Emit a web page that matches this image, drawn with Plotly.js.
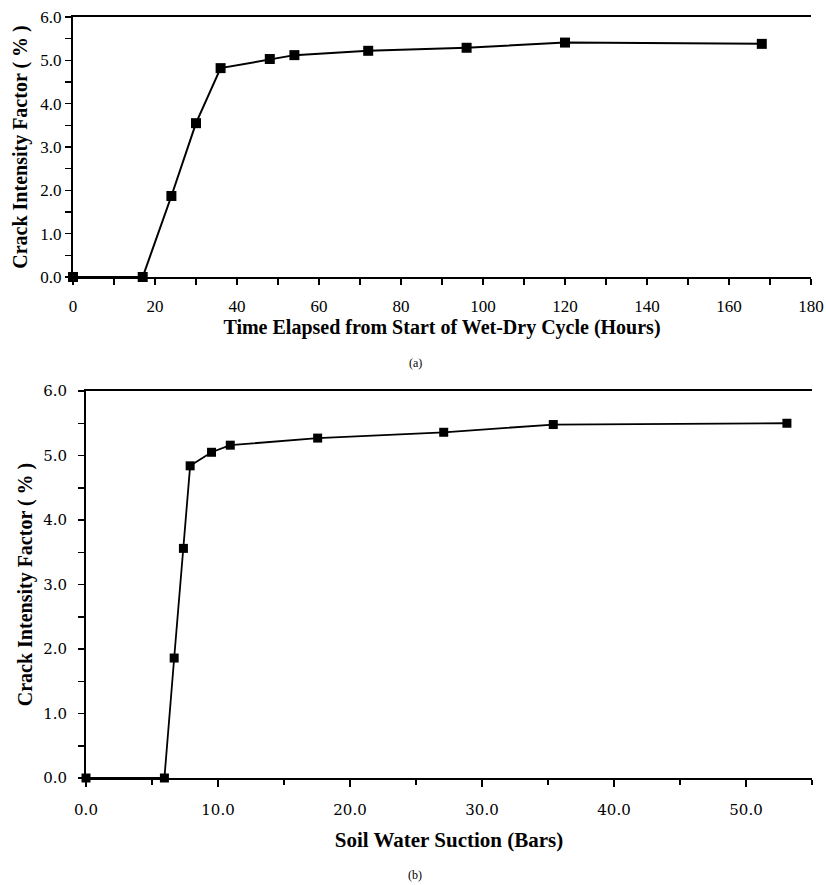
<!DOCTYPE html>
<html>
<head>
<meta charset="utf-8">
<script src="https://cdn.plot.ly/plotly-3.0.1.min.js"></script>
<style>html,body{margin:0;padding:0;background:#fff;}#chart{width:826px;height:885px;}</style>
</head>
<body>
<div id="chart"></div>
<script>
// (a) Crack intensity factor vs time
const timeHours = [0, 17, 24, 30, 36, 48, 54, 72, 96, 120, 168];
const cifTime = [0, 0, 1.87, 3.55, 4.82, 5.03, 5.12, 5.22, 5.29, 5.41, 5.38];
// (b) Crack intensity factor vs suction
const suctionBars = [0, 5.94, 6.68, 7.38, 7.89, 9.51, 10.93, 17.55, 27.1, 35.4, 53.1];
const cifSuction = [0, 0, 1.86, 3.56, 4.84, 5.05, 5.16, 5.27, 5.36, 5.48, 5.50];

const xTitleA = 'Time Elapsed from Start of Wet-Dry Cycle (Hours)';
const xTitleB = 'Soil Water Suction (Bars)';
const yTitle = 'Crack Intensity Factor ( % )';

const W = 826, H = 885;
const px = v => v / W;
const py = v => 1 - v / H;

const serif = "'Liberation Serif', 'Times New Roman', serif";
const slab = "'DejaVu Serif', serif";

const traces = [
  {x: timeHours, y: cifTime, xaxis: 'x', yaxis: 'y', mode: 'lines+markers',
   line: {color: '#000', width: 2}, marker: {symbol: 'square', size: 10, color: '#000'},
   cliponaxis: false, showlegend: false, hoverinfo: 'x+y'},
  {x: suctionBars, y: cifSuction, xaxis: 'x2', yaxis: 'y2', mode: 'lines+markers',
   line: {color: '#000', width: 1.8}, marker: {symbol: 'square', size: 9, color: '#000'},
   cliponaxis: false, showlegend: false, hoverinfo: 'x+y'}
];

const layout = {
  width: W, height: H,
  margin: {l: 0, r: 0, t: 0, b: 0},
  paper_bgcolor: '#fff', plot_bgcolor: '#fff',
  showlegend: false,
  xaxis: {
    domain: [px(73), px(811)], anchor: 'y', range: [0, 180],
    dtick: 20, tick0: 0, ticks: 'outside', ticklen: 6, tickwidth: 1.5, tickcolor: '#000',
    minor: {dtick: 10, ticks: 'outside', ticklen: 6, tickwidth: 1.5, tickcolor: '#000'},
    showline: true, linecolor: '#000', linewidth: 2, mirror: true,
    showgrid: false, zeroline: false, ticklabelstandoff: 7,
    tickfont: {family: serif, size: 17, color: '#000'},
    title: {text: xTitleA, font: {family: serif, size: 20, color: '#000', weight: 'bold'}, standoff: 4}
  },
  yaxis: {
    domain: [py(277), py(17)], anchor: 'x', range: [0, 6],
    dtick: 1, tick0: 0, tickformat: '.1f', ticks: 'outside', ticklen: 6, tickwidth: 1.5, tickcolor: '#000',
    minor: {dtick: 0.5, ticks: 'outside', ticklen: 6, tickwidth: 1.5, tickcolor: '#000'},
    showline: true, linecolor: '#000', linewidth: 2,
    showgrid: false, zeroline: false,
    tickfont: {family: serif, size: 17, color: '#000'},
    title: {text: yTitle, font: {family: serif, size: 20, color: '#000', weight: 'bold'}, standoff: 7}
  },
  yaxis3: {
    overlaying: 'y', anchor: 'x', side: 'right', range: [0, 6],
    showline: true, linecolor: '#888', linewidth: 1.5,
    showticklabels: false, ticks: '', showgrid: false, zeroline: false
  },
  xaxis2: {
    domain: [px(86), px(812)], anchor: 'y2', range: [0, 55],
    dtick: 10, tick0: 0, tickformat: '.1f', ticks: 'outside', ticklen: 7, tickwidth: 1.5, tickcolor: '#000',
    minor: {dtick: 5, ticks: 'outside', ticklen: 5, tickwidth: 1.5, tickcolor: '#000'},
    showline: true, linecolor: '#000', linewidth: 2, mirror: true,
    showgrid: false, zeroline: false, ticklabelstandoff: 10,
    tickfont: {family: slab, size: 15, color: '#000'},
    title: {text: xTitleB, font: {family: serif, size: 21, color: '#000', weight: 'bold'}, standoff: 14}
  },
  xaxis4: {
    overlaying: 'x2', anchor: 'y2', range: [0, 55], domain: [px(86), px(812)],
    dtick: 10, tick0: 0, ticks: 'inside', ticklen: 7, tickwidth: 1.5, tickcolor: '#000',
    showticklabels: false, showline: false, showgrid: false, zeroline: false
  },
  yaxis2: {
    domain: [py(778), py(391)], anchor: 'x2', range: [0, 6],
    dtick: 1, tick0: 0, tickformat: '.1f', ticks: 'outside', ticklen: 6, tickwidth: 1.5, tickcolor: '#000',
    minor: {dtick: 0.5, ticks: 'outside', ticklen: 6, tickwidth: 1.5, tickcolor: '#000'},
    showline: true, linecolor: '#000', linewidth: 2,
    showgrid: false, zeroline: false, ticklabelstandoff: 8,
    tickfont: {family: slab, size: 15, color: '#000'},
    title: {text: yTitle, font: {family: serif, size: 20, color: '#000', weight: 'bold'}, standoff: 5}
  },
  yaxis4: {
    overlaying: 'y2', anchor: 'x2', side: 'right', range: [0, 6],
    showline: true, linecolor: '#888', linewidth: 1.5,
    showticklabels: false, ticks: '', showgrid: false, zeroline: false
  },
  annotations: [
    {text: '(a)', xref: 'paper', yref: 'paper', x: px(415), y: py(363), showarrow: false,
     xanchor: 'center', yanchor: 'middle', font: {family: serif, size: 12, color: '#000'}},
    {text: '(b)', xref: 'paper', yref: 'paper', x: px(415), y: py(875), showarrow: false,
     xanchor: 'center', yanchor: 'middle', font: {family: serif, size: 12, color: '#000'}}
  ]
};

Plotly.newPlot('chart', traces, layout, {displayModeBar: false, staticPlot: true});
</script>
</body>
</html>
